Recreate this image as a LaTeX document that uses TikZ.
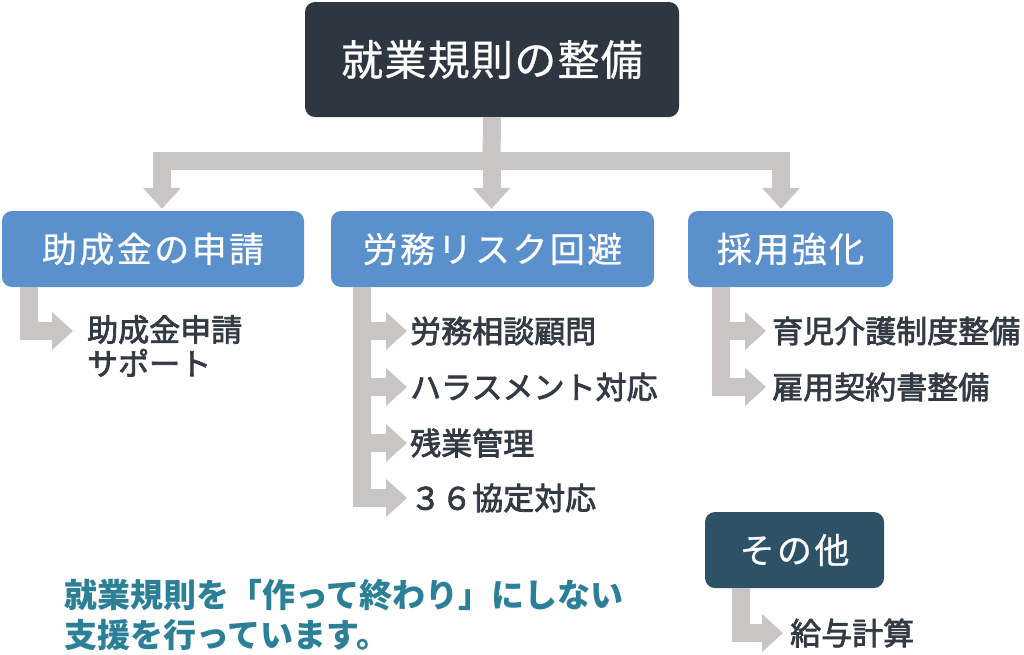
\documentclass[tikz,border=0pt]{standalone}
\usepackage{fontspec}
\setmainfont{Noto Sans CJK JP}
\newfontfamily\itemfont[FakeBold=2.4]{Noto Sans CJK JP}
\newfontfamily\boxfont[LetterSpace=7,FakeBold=0.6]{Noto Sans CJK JP}
\newfontfamily\topfont[LetterSpace=3,FakeBold=0.6]{Noto Sans CJK JP}
\usetikzlibrary{arrows.meta,calc}
\definecolor{topdark}{HTML}{2E3641}
\definecolor{bluebox}{HTML}{5A90CB}
\definecolor{arrowgray}{HTML}{C9C5C4}
\definecolor{otherbox}{HTML}{2D5267}
\definecolor{itemtext}{HTML}{333A44}
\definecolor{msgteal}{HTML}{2B8098}
\begin{document}
\begin{tikzpicture}[x=1pt,y=-1pt,
  conn/.style={draw=arrowgray, line width=18pt, line join=miter,
    -{Triangle[width=38pt,length=21pt,line width=0pt]}},
  bar/.style={draw=arrowgray, line width=18pt, line join=miter},
  box/.style={rounded corners=10pt, inner sep=0pt, text=white},
  catbox/.style={box, fill=bluebox, minimum height=76pt, font=\boxfont\fontsize{35}{40}\selectfont},
  item/.style={anchor=west, inner ysep=0pt, text=itemtext, font=\itemfont\fontsize{31}{34}\selectfont}
]
\useasboundingbox (0,0) rectangle (1024,654);

% top
\node[box, fill=topdark, minimum width=374pt, minimum height=115pt,
  font=\topfont\fontsize{42}{50}\selectfont] (top) at (492,59.5) {就業規則の整備};

% categories
\node[catbox, minimum width=302pt] (b1) at (153,249) {助成金の申請};
\node[catbox, minimum width=323pt] (b2) at (492.5,249) {労務リスク回避};
\node[catbox, minimum width=205pt] (b3) at (790.5,249) {採用強化};
\node[box, fill=otherbox, minimum width=179pt, minimum height=76pt,
  font=\boxfont\fontsize{35}{40}\selectfont] (b4) at (794.5,550) {その他};

% tree connectors
\coordinate (hub) at (491.5,161);
\draw[bar] (top.south) -- (hub);
\draw[conn] (hub) -| ([xshift=9pt,yshift=2pt]b1.north);
\draw[conn] (hub) -- ([xshift=-1pt,yshift=2pt]b2.north);
\draw[conn] (hub) -| ([xshift=-9.5pt,yshift=2pt]b3.north);

% items
\node[item, anchor=north west, align=left, inner xsep=14pt] (i1) at (73,315) {助成金申請\\サポート};
\draw[conn] ($(b1.south west)+(27,0)$) |- ([yshift=-16pt]i1.north west);

\node[item, inner xsep=3pt] (m1) at (407,331) {労務相談顧問};
\node[item, inner xsep=3pt] (m2) at (407,387) {ハラスメント対応};
\node[item, inner xsep=3pt] (m3) at (407,443) {残業管理};
\node[item, inner xsep=3pt] (m4) at (407,498) {３６協定対応};
\coordinate (s2) at ($(b2.south west)+(31.5,0)$);
\draw[conn] (s2) |- (m4.west);
\draw[conn] (s2 |- m1.west) -- (m1.west);
\draw[conn] (s2 |- m2.west) -- (m2.west);
\draw[conn] (s2 |- m3.west) -- (m3.west);

\node[item, inner xsep=6pt] (r1) at (766,331) {育児介護制度整備};
\node[item, inner xsep=6pt] (r2) at (766,387) {雇用契約書整備};
\coordinate (s3) at ($(b3.south west)+(33.5,0)$);
\draw[conn] (s3) |- (r2.west);
\draw[conn] (s3 |- r1.west) -- (r1.west);

\node[item, inner xsep=7pt] (o1) at (783,633) {給与計算};
\draw[conn] ($(b4.south west)+(36,0)$) |- (o1.west);

% message
\node[anchor=north west, align=left, inner sep=0pt, text=msgteal,
  font=\bfseries\fontsize{33}{40}\selectfont] (msg) at (64,579)
  {就業規則を「作って終わり」にしない\\支援を行っています。};
\end{tikzpicture}
\end{document}
